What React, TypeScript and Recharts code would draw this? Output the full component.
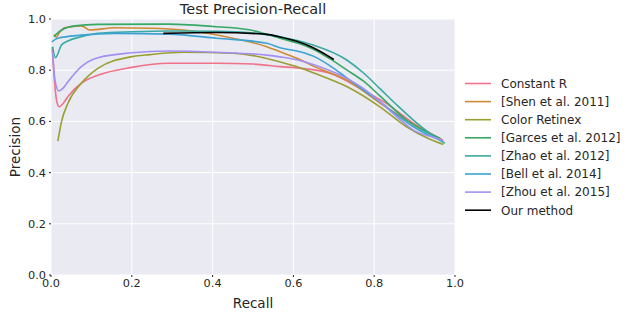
import React from 'react';
import { LineChart, Line, XAxis, YAxis, CartesianGrid } from 'recharts';

type Pt = [number, number];

// [recall, precision] pairs
const constantR: Pt[] = [
  [0.003, 0.89], [0.008, 0.77], [0.014, 0.68], [0.02, 0.657], [0.03, 0.67], [0.042, 0.697],
  [0.075, 0.749], [0.116, 0.78], [0.2, 0.811], [0.29, 0.827], [0.41, 0.827], [0.5, 0.824],
  [0.567, 0.814], [0.616, 0.808], [0.69, 0.788], [0.772, 0.723], [0.84, 0.66], [0.897, 0.593], [0.97, 0.527],
];
const shen2011: Pt[] = [
  [0.009, 0.94], [0.013, 0.928], [0.02, 0.945], [0.034, 0.966], [0.075, 0.973], [0.096, 0.957],
  [0.158, 0.966], [0.245, 0.964], [0.327, 0.957], [0.45, 0.925], [0.534, 0.892], [0.567, 0.872],
  [0.616, 0.842], [0.649, 0.816], [0.732, 0.762], [0.814, 0.672], [0.88, 0.605], [0.97, 0.527],
];
const colorRetinex: Pt[] = [
  [0.017, 0.523], [0.02, 0.55], [0.026, 0.599], [0.042, 0.671], [0.075, 0.749], [0.116, 0.807],
  [0.2, 0.853], [0.245, 0.861], [0.327, 0.87], [0.45, 0.866], [0.534, 0.846], [0.567, 0.832],
  [0.616, 0.81], [0.649, 0.79], [0.732, 0.736], [0.814, 0.657], [0.88, 0.579], [0.938, 0.53], [0.971, 0.51],
];
const garces2012: Pt[] = [
  [0.007, 0.931], [0.026, 0.957], [0.059, 0.973], [0.116, 0.979], [0.29, 0.98], [0.41, 0.97],
  [0.493, 0.957], [0.567, 0.925], [0.616, 0.903], [0.649, 0.882], [0.69, 0.845], [0.732, 0.801],
  [0.773, 0.758], [0.814, 0.7], [0.88, 0.605], [0.963, 0.534],
];
const zhao2012: Pt[] = [
  [0.004, 0.892], [0.011, 0.849], [0.026, 0.898], [0.042, 0.914], [0.075, 0.931], [0.116, 0.944],
  [0.2, 0.95], [0.29, 0.953], [0.41, 0.952], [0.5, 0.945], [0.567, 0.931], [0.649, 0.898],
  [0.732, 0.84], [0.773, 0.79], [0.814, 0.728], [0.856, 0.664], [0.897, 0.605], [0.938, 0.553], [0.975, 0.514],
];
const bell2014: Pt[] = [
  [0.002, 0.911], [0.017, 0.925], [0.075, 0.937], [0.158, 0.944], [0.29, 0.941], [0.41, 0.925],
  [0.534, 0.905], [0.567, 0.888], [0.616, 0.872], [0.649, 0.855], [0.69, 0.818], [0.732, 0.77],
  [0.773, 0.723], [0.814, 0.677], [0.856, 0.625], [0.897, 0.579], [0.971, 0.521],
];
const zhou2015: Pt[] = [
  [0.004, 0.872], [0.01, 0.76], [0.019, 0.719], [0.03, 0.73], [0.042, 0.755], [0.075, 0.814],
  [0.116, 0.849], [0.2, 0.868], [0.29, 0.875], [0.41, 0.87], [0.534, 0.859], [0.567, 0.852],
  [0.616, 0.838], [0.649, 0.822], [0.732, 0.768], [0.773, 0.729], [0.814, 0.677], [0.856, 0.618],
  [0.897, 0.566], [0.955, 0.534], [0.971, 0.525],
];
const ourMethod: Pt[] = [
  [0.278, 0.944], [0.41, 0.947], [0.534, 0.94], [0.567, 0.93], [0.608, 0.913], [0.649, 0.888], [0.7, 0.842],
];

const ticks = [0, 0.2, 0.4, 0.6, 0.8, 1.0];

const series = [
  { name: 'Constant R', color: '#f0728a', pts: constantR },
  { name: '[Shen et al. 2011]', color: '#cf8b33', pts: shen2011 },
  { name: 'Color Retinex', color: '#9a9f32', pts: colorRetinex },
  { name: '[Garces et al. 2012]', color: '#36a964', pts: garces2012 },
  { name: '[Zhao et al. 2012]', color: '#38aaa2', pts: zhao2012 },
  { name: '[Bell et al. 2014]', color: '#3ba3d4', pts: bell2014 },
  { name: '[Zhou et al. 2015]', color: '#a38ff0', pts: zhou2015 },
  { name: 'Our method', color: '#000000', pts: ourMethod },
];

const font = 'DejaVu Sans, sans-serif';
const textColor = '#262626';

function LegendBox() {
  return (
    <svg width={165} height={150} style={{ position: 'absolute', left: 460, top: 74 }}>
      {series.map((s, i) => {
        const y = 9.5 + i * 18.1;
        return (
          <g key={s.name}>
            <line x1={5} x2={31} y1={y} y2={y} stroke={s.color} strokeWidth={1.6} />
            <text x={41} y={y + 4.3} fontFamily={font} fontSize={12} fill={textColor}>
              {s.name}
            </text>
          </g>
        );
      })}
    </svg>
  );
}

export default function App() {
  return (
    <div style={{ position: 'absolute', left: 0, top: 0, width: 624, height: 313, background: '#fff' }}>
      <div
        style={{
          position: 'absolute', left: 51, width: 404, top: 1, textAlign: 'center',
          fontFamily: font, fontSize: 14.5, color: textColor,
        }}
      >
        Test Precision-Recall
      </div>
      <LineChart width={624} height={313} margin={{ top: 19, right: 169, left: 0, bottom: 0 }}>
        <CartesianGrid fill="#eaeaf2" stroke="#ffffff" strokeWidth={1} />
        <XAxis
          type="number"
          dataKey="r"
          domain={[0, 1]}
          ticks={ticks}
          tickFormatter={(v: number) => v.toFixed(1)}
          axisLine={false}
          tickLine={{ stroke: textColor }}
          tickSize={2}
          tickMargin={2}
          height={38}
          allowDuplicatedCategory={false}
          tick={{ fontFamily: font, fontSize: 11.3, fill: textColor }}
          label={{ value: 'Recall', position: 'insideBottom', offset: 5, style: { fontFamily: font, fontSize: 13.5, fill: textColor } }}
        />
        <YAxis
          type="number"
          dataKey="p"
          domain={[0, 1]}
          ticks={ticks}
          tickFormatter={(v: number) => v.toFixed(1)}
          axisLine={false}
          tickLine={{ stroke: textColor }}
          tickSize={2}
          tickMargin={3}
          width={51}
          tick={{ fontFamily: font, fontSize: 11.3, fill: textColor }}
          label={{ value: 'Precision', angle: -90, position: 'insideLeft', offset: 15, style: { fontFamily: font, fontSize: 13.5, fill: textColor, textAnchor: 'middle' } }}
        />
        {series.map((s) => (
          <Line
            key={s.name}
            name={s.name}
            data={s.pts.map(([r, p]) => ({ r, p }))}
            dataKey="p"
            type="monotone"
            stroke={s.color}
            strokeWidth={1.6}
            dot={false}
            activeDot={false}
            isAnimationActive={false}
          />
        ))}
      </LineChart>
      <LegendBox />
    </div>
  );
}
